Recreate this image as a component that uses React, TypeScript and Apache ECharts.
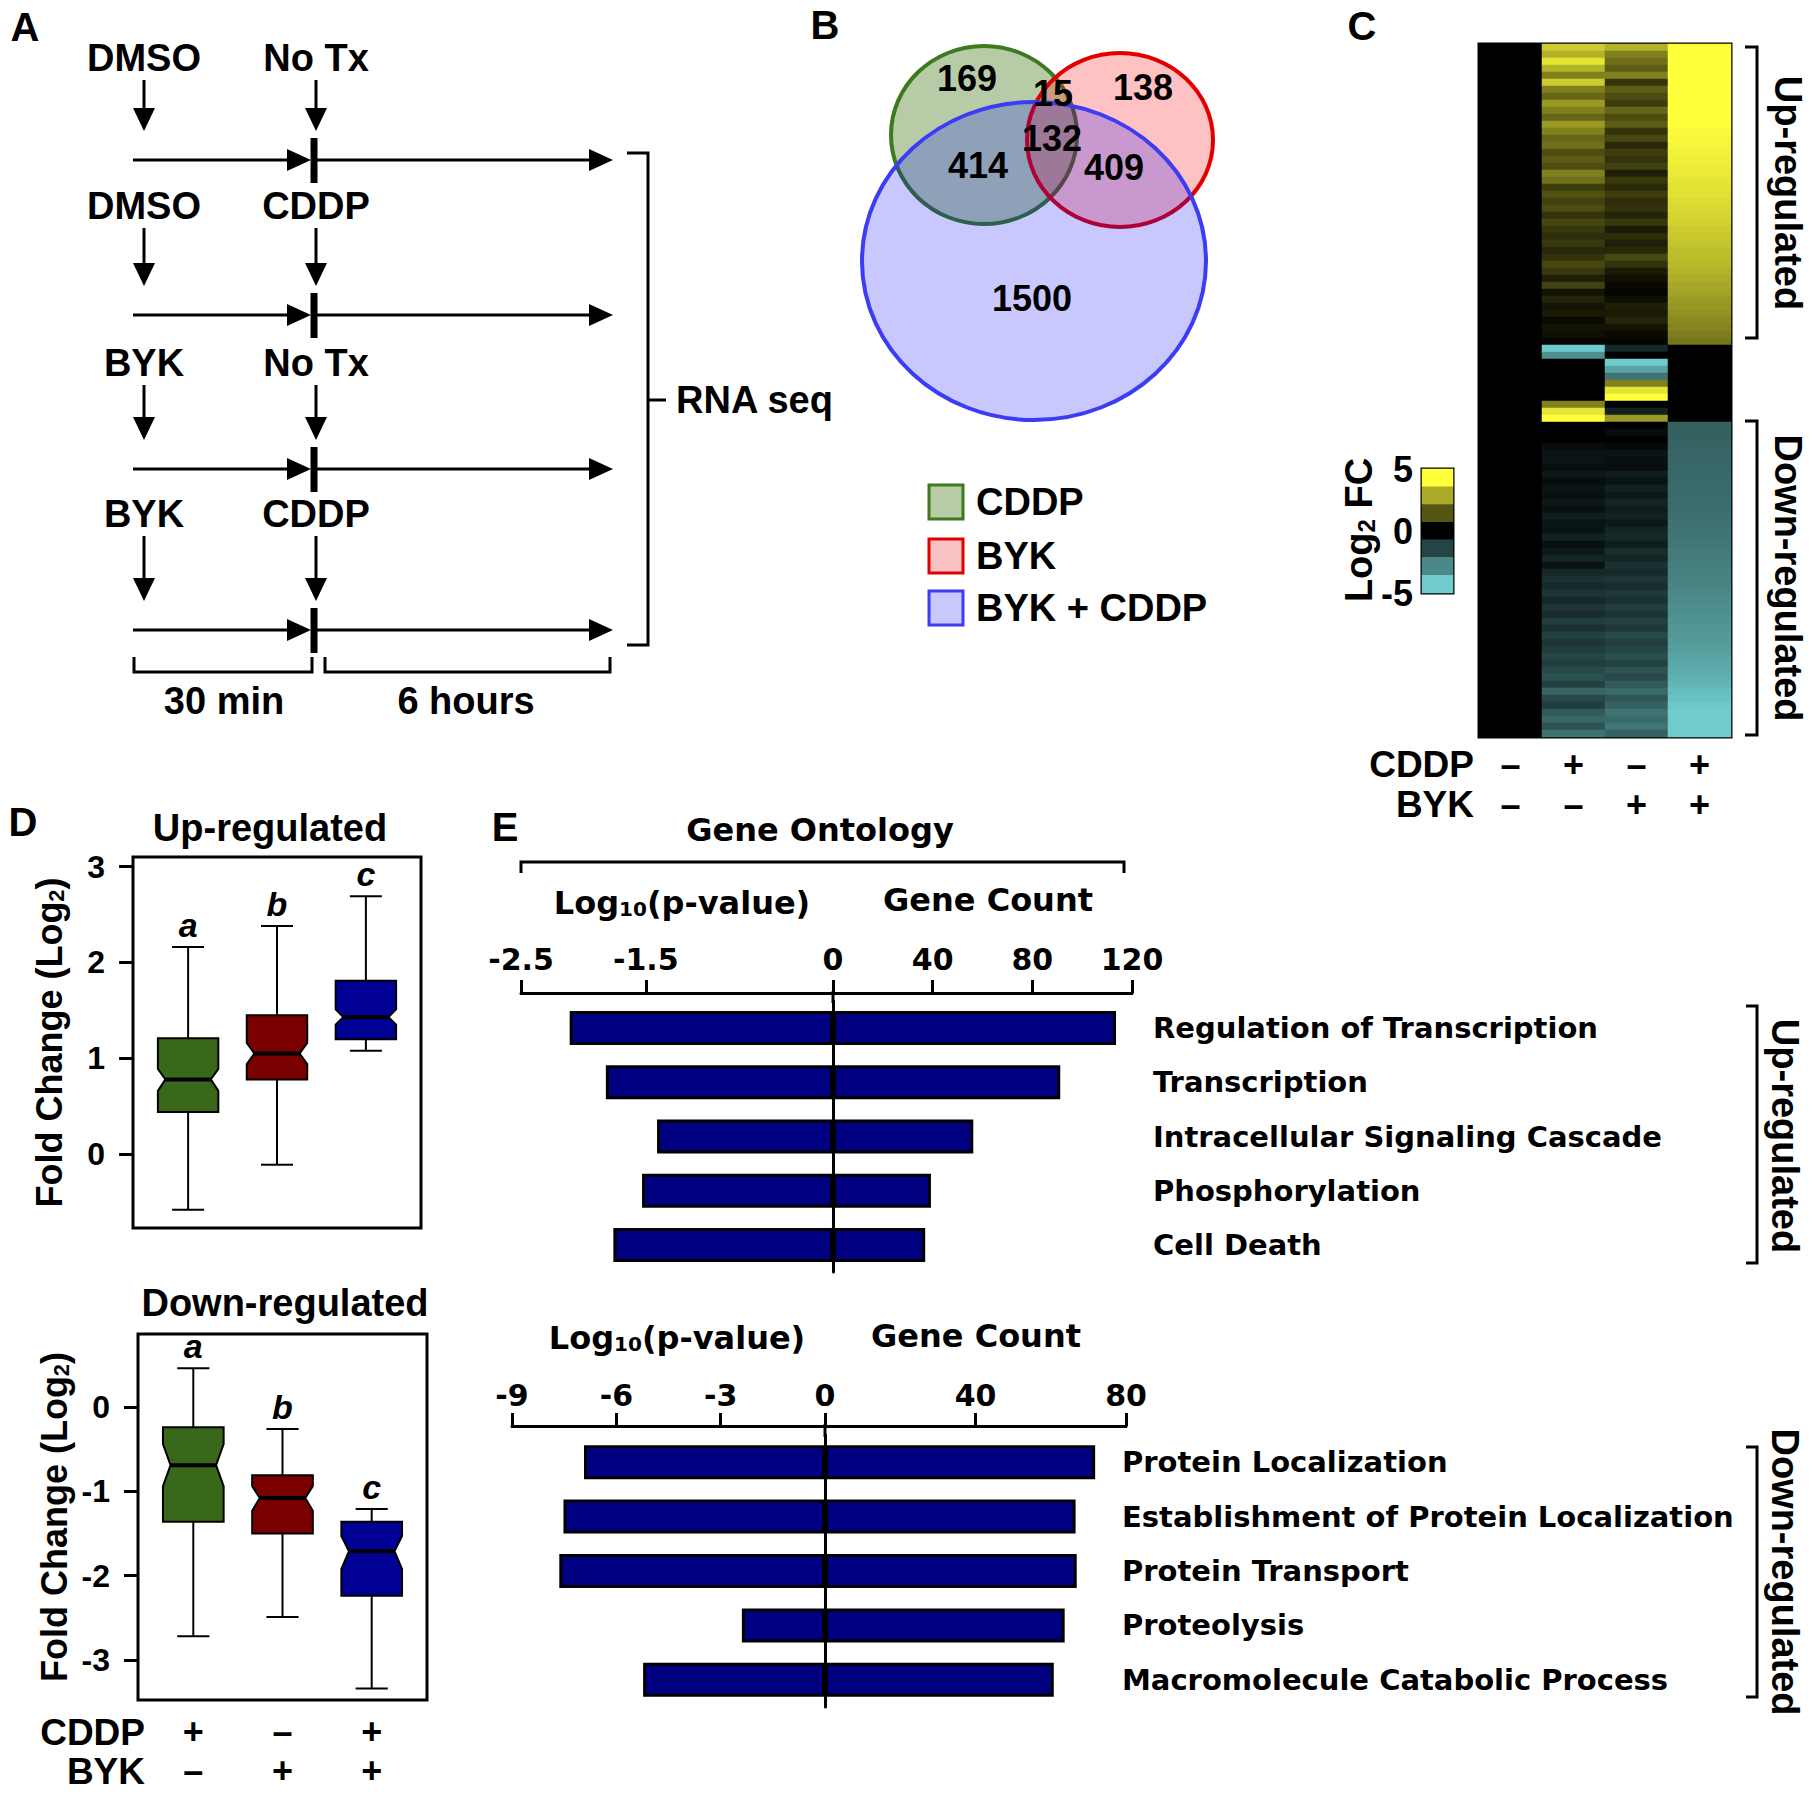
import React, { useEffect, useRef } from "react";
import * as echarts from "echarts";

const FONT = "'Liberation Sans', Arial, Helvetica, sans-serif";
const WIDE = "'DejaVu Sans', 'Liberation Sans', sans-serif";

// ---------------- Panel A : design ----------------
const preTreatments = ["DMSO", "DMSO", "BYK", "BYK"];
const postTreatments = ["No Tx", "CDDP", "No Tx", "CDDP"];
const intervalLabels = ["30 min", "6 hours"];
const outcomeLabel = "RNA seq";

// ---------------- Panel B : Venn ----------------
const vennSetNames = ["CDDP", "BYK", "BYK + CDDP"];
// regions: CDDP only, BYK only, CDDP&BYK only, all three, CDDP&combo, BYK&combo, combo only
const vennCounts = [169, 138, 15, 132, 414, 409, 1500];

// ---------------- Panel C : heatmap (log2 FC) ----------------
const heatColumns = ["DMSO", "CDDP", "BYK", "BYK + CDDP"];
const heatCddpSigns = ["–", "+", "–", "+"];
const heatBykSigns = ["–", "–", "+", "+"];
const cddpUp = [4, 3.5, 4.5, 3.5, 2.5, 4, 2.5, 2, 3, 2.5, 2, 3, 2.5, 2, 2.2, 1.5, 1.8, 1.5, 2.5, 2.2, 1.2, 1.6, 1.3, 1.5, 1.0, 1.4, 1.1, 0.9, 1.1, 0.8, 1.0, 1.4, 1.1, 0.6, 1.3, 0.4, 0.7, 0.4, 0.5, 0.2, 0.4, 0.3, 0.1];
const bykUp = [3.5, 2.5, 2.2, 1.8, 2.5, 1.0, 1.8, 1.5, 1.2, 2.0, 1.5, 1.8, 1.0, 1.4, 0.8, 1.2, 1.0, 1.3, 0.6, 1.1, 0.8, 1.2, 0.9, 1.0, 0.7, 1.1, 0.5, 0.9, 0.6, 0.8, 1.4, 1.0, 0.5, 0.3, 0.2, 0.1, 0.3, 0.6, 0.5, 0.7, 0.4, 0.2, 0.1];
const comboUp = [5, 5, 5, 5, 5, 5, 5, 5, 5, 5, 5, 5, 4.9, 4.85, 4.8, 4.75, 4.7, 4.65, 4.6, 4.5, 4.45, 4.4, 4.3, 4.25, 4.15, 4.1, 4.0, 3.95, 3.85, 3.75, 3.7, 3.6, 3.5, 3.4, 3.3, 3.2, 3.05, 2.95, 2.85, 2.7, 2.6, 2.45, 2.3];
const cddpMid = [-5, -3.5, 0, 0, 0, 0, 0, 0, 2.5, 4.5, 5];
const bykMid = [-1, 0, -5, -4, -2.8, 2.5, 4.5, 5, 0, -0.8, 3];
const comboMid = [0, 0, 0, 0, 0, 0, 0, 0, 0, 0, 0];
const cddpDown = [0, 0, 0, -0.3, -0.5, -0.5, -0.3, -0.6, -0.3, -0.5, -0.4, -0.6, -0.4, -0.7, -0.5, -0.5, -0.8, -0.4, -0.6, -0.9, -0.5, -1.0, -1.2, -1.0, -1.3, -1.0, -1.3, -1.1, -1.5, -1.2, -1.6, -1.3, -1.5, -1.7, -1.5, -1.8, -2.0, -1.6, -2.5, -1.8, -1.5, -2.2, -2.5, -2.0, -2.8];
const bykDown = [0, -0.3, 0, -0.2, -0.5, -0.4, -0.3, -0.7, -0.5, -0.8, -0.6, -0.9, -0.7, -0.8, -0.6, -0.9, -1.0, -0.7, -1.1, -0.9, -1.2, -1.0, -1.3, -1.1, -1.4, -1.2, -1.5, -1.3, -1.6, -1.4, -1.8, -1.5, -1.7, -1.9, -1.6, -2.0, -1.8, -2.2, -2.6, -2.1, -2.4, -2.8, -2.6, -2.9, -2.4];
const comboDown = [-2.35, -2.38, -2.4, -2.43, -2.46, -2.49, -2.52, -2.55, -2.58, -2.61, -2.64, -2.67, -2.7, -2.75, -2.8, -2.85, -2.9, -2.95, -3.0, -3.05, -3.1, -3.15, -3.2, -3.27, -3.34, -3.4, -3.47, -3.54, -3.6, -3.67, -3.74, -3.8, -3.9, -4.0, -4.1, -4.2, -4.3, -4.45, -4.6, -4.75, -4.9, -5, -5, -5, -5];
const legendSteps = [5, 3.33, 1.67, 0, -1.67, -3.33, -5];
const legendTicks = [5, 0, -5];

// ---------------- Panel D : box plots ----------------
const boxCddpSigns = ["+", "–", "+"];
const boxBykSigns = ["–", "+", "+"];
const boxColors = ["#3a681a", "#7a0000", "#000094"];
const upLetters = ["a", "b", "c"];
const downLetters = ["a", "b", "c"];
// [whisker low, Q1, notch low, median, notch high, Q3, whisker high]
const upBoxStats = [
  [-0.58, 0.44, 0.66, 0.78, 0.89, 1.21, 2.16],
  [-0.11, 0.78, 0.94, 1.05, 1.16, 1.45, 2.38],
  [1.08, 1.2, 1.35, 1.43, 1.51, 1.81, 2.69],
];
const downBoxStats = [
  [-2.72, -1.36, -0.94, -0.69, -0.44, -0.24, 0.46],
  [-2.49, -1.5, -1.23, -1.08, -0.94, -0.81, -0.26],
  [-3.34, -2.24, -1.92, -1.71, -1.53, -1.36, -1.21],
];
const upTicks = [0, 1, 2, 3];
const downTicks = [-3, -2, -1, 0];

// ---------------- Panel E : Gene Ontology ----------------
const goUpTerms = ["Regulation of Transcription", "Transcription", "Intracellular Signaling Cascade", "Phosphorylation", "Cell Death"];
const goUpLogP = [-2.11, -1.82, -1.41, -1.53, -1.76];
const goUpCount = [113.6, 91.2, 56.3, 39.3, 37];
const goDownTerms = ["Protein Localization", "Establishment of Protein Localization", "Protein Transport", "Proteolysis", "Macromolecule Catabolic Process"];
const goDownLogP = [-6.93, -7.52, -7.64, -2.39, -5.23];
const goDownCount = [71.8, 66.6, 66.9, 63.7, 60.8];
const goUpPTicks = [-2.5, -1.5];
const goUpCountTicks = [0, 40, 80, 120];
const goDownPTicks = [-9, -6, -3];
const goDownCountTicks = [0, 40, 80];

// ---------- helpers for graphic ----------
const T = (x: number, y: number, text: string, size: number, o: any = {}) => ({
  type: "text",
  x,
  y,
  rotation: o.rotation || 0,
  z: 50,
  silent: true,
  style: {
    text,
    fontSize: size,
    fontWeight: "bold",
    fontStyle: o.italic ? "italic" : "normal",
    fontFamily: o.family || FONT,
    fill: "#000",
    align: o.align || "center",
    verticalAlign: "middle",
    rich: o.rich,
  },
});
const L = (x1: number, y1: number, x2: number, y2: number, w = 3) => ({
  type: "line",
  z: 50,
  silent: true,
  shape: { x1, y1, x2, y2 },
  style: { stroke: "#000", lineWidth: w },
});
const P = (points: number[][], fill = "#000") => ({
  type: "polygon",
  z: 50,
  silent: true,
  shape: { points },
  style: { fill },
});
const PL = (points: number[][], w = 3) => ({
  type: "polyline",
  z: 50,
  silent: true,
  shape: { points },
  style: { stroke: "#000", lineWidth: w, fill: null },
});

const subRich = (size: number, family: string, subSize: number) => ({
  m: { fontSize: size, fontWeight: "bold", fontFamily: family, lineHeight: size + 6, verticalAlign: "bottom", color: "#000", fill: "#000" },
  s: { fontSize: subSize, fontWeight: "bold", fontFamily: family, lineHeight: 12, verticalAlign: "bottom", color: "#000", fill: "#000" },
});

function buildGraphics() {
  const els: any[] = [];
  // panel letters
  els.push(T(25, 27, "A", 40), T(825, 25, "B", 40), T(1362, 26, "C", 40), T(23, 822, "D", 40), T(505, 827, "E", 40));

  // ---- Panel A ----
  const rowLineY = [160, 315, 469, 630];
  const rowLabelY = [58, 206, 363, 514];
  const xL = 144;
  const xM = 316;
  const arrowDown = (x: number, y0: number, tip: number) => {
    els.push(L(x, y0, x, tip - 20, 3));
    els.push(P([[x - 11, tip - 23], [x + 11, tip - 23], [x, tip]]));
  };
  preTreatments.forEach((pre, i) => {
    els.push(T(xL, rowLabelY[i], pre, 38));
    els.push(T(xM, rowLabelY[i], postTreatments[i], 38));
    arrowDown(xL, rowLabelY[i] + 22, rowLineY[i] - 29);
    arrowDown(xM, rowLabelY[i] + 22, rowLineY[i] - 29);
    const y = rowLineY[i];
    els.push(L(133, y, 292, y, 3));
    els.push(P([[287, y - 11], [287, y + 11], [311, y]]));
    els.push(L(314, y - 22, 314, y + 23, 7));
    els.push(L(316, y, 592, y, 3));
    els.push(P([[589, y - 11], [589, y + 11], [613, y]]));
  });
  els.push(PL([[134, 657], [134, 672], [312, 672], [312, 657]]));
  els.push(PL([[325, 657], [325, 672], [610, 672], [610, 657]]));
  els.push(T(224, 701, intervalLabels[0], 38), T(466, 701, intervalLabels[1], 38));
  els.push(PL([[627, 153], [648, 153], [648, 645], [627, 645]]));
  els.push(L(648, 400, 666, 400, 3));
  els.push(T(676, 400, outcomeLabel, 38, { align: "left" }));

  // ---- Panel B ----
  const circles = [
    { cx: 984, cy: 135, rx: 93, ry: 89, fill: "rgba(75,127,32,0.4)", stroke: "#3d7a1e" },
    { cx: 1120, cy: 140, rx: 93, ry: 87, fill: "rgba(255,0,0,0.24)", stroke: "#e00000" },
    { cx: 1034, cy: 261, rx: 172, ry: 159, fill: "rgba(0,0,255,0.216)", stroke: "#3c3cf5" },
  ];
  circles.forEach((c) =>
    els.push({
      type: "ellipse",
      z: 40,
      silent: true,
      shape: { cx: c.cx, cy: c.cy, rx: c.rx, ry: c.ry },
      style: { fill: c.fill, stroke: c.stroke, lineWidth: 4 },
    })
  );
  const countPos = [[967, 78], [1143, 87], [1053, 93], [1052, 138], [978, 165], [1114, 167], [1032, 298]];
  vennCounts.forEach((n, i) => els.push(T(countPos[i][0], countPos[i][1], String(n), 36)));
  const legendFill = ["#b7cca6", "#f8c2c2", "#c8c8fa"];
  const legendY = [502, 556, 608];
  vennSetNames.forEach((name, i) => {
    els.push({
      type: "rect",
      z: 40,
      silent: true,
      shape: { x: 929, y: legendY[i] - 17, width: 34, height: 34 },
      style: { fill: legendFill[i], stroke: circles[i].stroke, lineWidth: 3 },
    });
    els.push(T(976, legendY[i], name, 38, { align: "left" }));
  });

  // ---- Panel C ----
  els.push(PL([[1745, 47], [1757, 47], [1757, 338], [1745, 338]]));
  els.push(T(1788, 193, "Up-regulated", 38, { rotation: -Math.PI / 2 }));
  els.push(PL([[1745, 421], [1757, 421], [1757, 735], [1745, 735]]));
  els.push(T(1788, 578, "Down-regulated", 38, { rotation: -Math.PI / 2 }));
  els.push(T(1356, 530, "{m|Log}{s|2}{m| FC}", 38, { rotation: Math.PI / 2, rich: subRich(38, FONT, 24) }));
  els.push(T(1474, 764, "CDDP", 37, { align: "right" }));
  els.push(T(1474, 804, "BYK", 37, { align: "right" }));

  // ---- Panel D ----
  els.push(T(270, 828, "Up-regulated", 38));
  els.push(T(285, 1303, "Down-regulated", 38));
  els.push(T(145, 1732, "CDDP", 37, { align: "right" }));
  els.push(T(145, 1771, "BYK", 37, { align: "right" }));

  // ---- Panel E ----
  els.push(T(820, 830, "Gene Ontology", 32, { family: WIDE }));
  els.push(PL([[521, 873], [521, 862], [1124, 862], [1124, 873]]));
  els.push(T(682, 900, "{m|Log}{s|10}{m|(p-value)}", 32, { family: WIDE, rich: subRich(32, WIDE, 20) }));
  els.push(T(988, 900, "Gene Count", 32, { family: WIDE }));
  els.push(T(677, 1335, "{m|Log}{s|10}{m|(p-value)}", 32, { family: WIDE, rich: subRich(32, WIDE, 20) }));
  els.push(T(976, 1336, "Gene Count", 32, { family: WIDE }));
  els.push(L(833, 991, 833, 1003, 3));
  els.push(L(825, 1424, 825, 1437, 3));
  els.push(PL([[1746, 1006], [1757, 1006], [1757, 1263], [1746, 1263]]));
  els.push(T(1785, 1136, "Up-regulated", 38, { rotation: -Math.PI / 2 }));
  els.push(PL([[1746, 1447], [1757, 1447], [1757, 1697], [1746, 1697]]));
  els.push(T(1785, 1572, "Down-regulated", 38, { rotation: -Math.PI / 2 }));
  return els;
}

const boxRender = (letters: string[]) => (params: any, api: any) => {
  const x = api.value(0);
  const wl = api.value(1);
  const q1 = api.value(2);
  const nl = api.value(3);
  const md = api.value(4);
  const nh = api.value(5);
  const q3 = api.value(6);
  const wh = api.value(7);
  const c = (xv: number, yv: number) => api.coord([xv, yv]);
  const HW = 0.34;
  const IN = 0.085;
  const CAP = 0.18;
  const color = boxColors[params.dataIndex];
  const pts = [c(x - HW, q3), c(x + HW, q3), c(x + HW, nh), c(x + HW - IN, md), c(x + HW, nl), c(x + HW, q1), c(x - HW, q1), c(x - HW, nl), c(x - HW + IN, md), c(x - HW, nh)];
  const top = c(x, wh);
  const bot = c(x, wl);
  const q3p = c(x, q3);
  const q1p = c(x, q1);
  const cL = c(x - CAP, wh);
  const cR = c(x + CAP, wh);
  const cL2 = c(x - CAP, wl);
  const cR2 = c(x + CAP, wl);
  const mL = c(x - HW + IN, md);
  const mR = c(x + HW - IN, md);
  const st = { stroke: "#000", lineWidth: 2 };
  return {
    type: "group",
    children: [
      { type: "line", shape: { x1: top[0], y1: top[1], x2: q3p[0], y2: q3p[1] }, style: st },
      { type: "line", shape: { x1: bot[0], y1: bot[1], x2: q1p[0], y2: q1p[1] }, style: st },
      { type: "line", shape: { x1: cL[0], y1: cL[1], x2: cR[0], y2: cR[1] }, style: st },
      { type: "line", shape: { x1: cL2[0], y1: cL2[1], x2: cR2[0], y2: cR2[1] }, style: st },
      { type: "polygon", shape: { points: pts }, style: { fill: color, stroke: "#000", lineWidth: 2 } },
      { type: "line", shape: { x1: mL[0], y1: mL[1], x2: mR[0], y2: mR[1] }, style: { stroke: "#000", lineWidth: 4 } },
      {
        type: "text",
        x: top[0],
        y: top[1] - 5,
        style: { text: letters[params.dataIndex], fill: "#000", font: `italic bold 34px ${FONT}`, align: "center", verticalAlign: "bottom" },
      },
    ],
  };
};

function buildOption() {
  const cddpCol = [...cddpUp, ...cddpMid, ...cddpDown];
  const bykCol = [...bykUp, ...bykMid, ...bykDown];
  const comboCol = [...comboUp, ...comboMid, ...comboDown];
  const dmsoCol = cddpCol.map(() => 0);
  const columns = [dmsoCol, cddpCol, bykCol, comboCol];
  const rowIds = cddpCol.map((_, i) => String(i));
  const heatData: any[] = [];
  columns.forEach((col, ci) => col.forEach((v, ri) => heatData.push([ci, ri, v])));
  const legendData = legendSteps.map((v, i) => [0, i, v]);

  const black = "#000";
  const boldLabel = (size: number, family = FONT) => ({ fontSize: size, fontWeight: "bold", fontFamily: family, color: black });
  const gridBase = { outerBoundsMode: "none", containLabel: false };

  const yName = "{m|Fold Change (Log}{s|2}{m|)}";

  const eX = (grid: number, min: number, max: number, ticks: number[], offset: number, margin: number) => ({
    type: "value",
    gridIndex: grid,
    min,
    max,
    position: "top",
    offset,
    axisLine: { show: true, onZero: false, lineStyle: { color: black, width: 3 } },
    axisTick: { show: true, length: 13, customValues: ticks, lineStyle: { color: black, width: 3 } },
    axisLabel: { ...boldLabel(30, WIDE), customValues: ticks, margin },
    splitLine: { show: false },
  });
  const eYHidden = (grid: number, data: string[]) => ({ type: "category", gridIndex: grid, data, inverse: true, show: false });
  const eYZero = (grid: number, data: string[]) => ({
    type: "category",
    gridIndex: grid,
    data,
    inverse: true,
    axisLine: { show: true, onZero: false, lineStyle: { color: black, width: 3 } },
    axisTick: { show: false },
    axisLabel: { show: false },
    splitLine: { show: false },
  });
  const eYLabels = (grid: number, data: string[], margin: number) => ({
    type: "category",
    gridIndex: grid,
    data,
    inverse: true,
    position: "right",
    axisLine: { show: false },
    axisTick: { show: false },
    axisLabel: { ...boldLabel(29, WIDE), margin, align: "left", interval: 0 },
    splitLine: { show: false },
  });
  const eBar = (xi: number, yi: number, data: number[]) => ({
    type: "bar",
    xAxisIndex: xi,
    yAxisIndex: yi,
    data,
    barWidth: 34,
    silent: true,
    itemStyle: { color: "#000080", borderColor: black, borderWidth: 3 },
  });

  return {
    animation: false,
    backgroundColor: "#fff",
    textStyle: { fontFamily: FONT },
    grid: [
      { ...gridBase, left: 133, top: 857, width: 288, height: 371, show: true, borderColor: black, borderWidth: 3, backgroundColor: "transparent" },
      { ...gridBase, left: 138, top: 1334, width: 289, height: 366, show: true, borderColor: black, borderWidth: 3, backgroundColor: "transparent" },
      { ...gridBase, left: 1479, top: 44, width: 252, height: 693, show: true, borderColor: black, borderWidth: 3, backgroundColor: black },
      { ...gridBase, left: 1422, top: 469, width: 31, height: 124, show: true, borderColor: black, borderWidth: 3, backgroundColor: "transparent" },
      { ...gridBase, left: 521, top: 1001, width: 312, height: 271 },
      { ...gridBase, left: 833, top: 1001, width: 299, height: 271 },
      { ...gridBase, left: 512, top: 1435, width: 313, height: 272 },
      { ...gridBase, left: 825, top: 1435, width: 301, height: 272 },
    ],
    xAxis: [
      { type: "value", gridIndex: 0, min: 0.38, max: 3.62, show: false },
      {
        type: "value",
        gridIndex: 1,
        min: 0.38,
        max: 3.62,
        axisLine: { show: false },
        axisTick: { show: false },
        splitLine: { show: false },
        axisLabel: {
          ...boldLabel(36),
          customValues: [1, 2, 3],
          lineHeight: 39,
          margin: 12,
          formatter: (v: number) => `${boxCddpSigns[Math.round(v) - 1]}\n${boxBykSigns[Math.round(v) - 1]}`,
        },
      },
      {
        type: "category",
        gridIndex: 2,
        data: heatColumns,
        axisLine: { show: false },
        axisTick: { show: false },
        splitLine: { show: false },
        axisLabel: {
          ...boldLabel(36),
          interval: 0,
          lineHeight: 40,
          margin: 7,
          formatter: (_v: string, i: number) => `${heatCddpSigns[i]}\n${heatBykSigns[i]}`,
        },
      },
      { type: "category", gridIndex: 3, data: [""], show: false },
      eX(4, -2.5, 0, goUpPTicks, 8, 19),
      eX(5, 0, 120, goUpCountTicks, 8, 19),
      eX(6, -9, 0, goDownPTicks, 9, 16),
      eX(7, 0, 80, goDownCountTicks, 9, 16),
    ],
    yAxis: [
      {
        type: "value",
        gridIndex: 0,
        min: -0.77,
        max: 3.1,
        axisLine: { show: false },
        axisTick: { show: true, inside: false, length: 14, customValues: upTicks, lineStyle: { color: black, width: 3 } },
        axisLabel: { ...boldLabel(32), customValues: upTicks, margin: 28 },
        splitLine: { show: false },
        name: yName,
        nameLocation: "middle",
        nameRotate: 90,
        nameGap: 66,
        nameTextStyle: { color: black, fontWeight: "bold", fontSize: 36, rich: subRich(36, FONT, 22) },
      },
      {
        type: "value",
        gridIndex: 1,
        min: -3.475,
        max: 0.866,
        axisLine: { show: false },
        axisTick: { show: true, inside: false, length: 14, customValues: downTicks, lineStyle: { color: black, width: 3 } },
        axisLabel: { ...boldLabel(32), customValues: downTicks, margin: 28 },
        splitLine: { show: false },
        name: yName,
        nameLocation: "middle",
        nameRotate: 90,
        nameGap: 66,
        nameTextStyle: { color: black, fontWeight: "bold", fontSize: 36, rich: subRich(36, FONT, 22) },
      },
      { type: "category", gridIndex: 2, data: rowIds, inverse: true, show: false },
      { type: "category", gridIndex: 3, data: legendSteps.map(String), inverse: true, show: false },
      {
        type: "value",
        gridIndex: 3,
        min: -5,
        max: 5,
        position: "left",
        axisLine: { show: false },
        axisTick: { show: false },
        splitLine: { show: false },
        axisLabel: { ...boldLabel(36), customValues: legendTicks, margin: 9 },
      },
      eYHidden(4, goUpTerms),
      eYZero(5, goUpTerms),
      eYLabels(5, goUpTerms, 21),
      eYHidden(6, goDownTerms),
      eYZero(7, goDownTerms),
      eYLabels(7, goDownTerms, -4),
    ],
    visualMap: {
      type: "continuous",
      min: -5,
      max: 5,
      show: false,
      seriesIndex: [2, 3],
      dimension: 2,
      inRange: { color: ["#70cccc", "#000000", "#ffff3c"] },
    },
    series: [
      {
        type: "custom",
        xAxisIndex: 0,
        yAxisIndex: 0,
        renderItem: boxRender(upLetters),
        data: upBoxStats.map((s, i) => [i + 1, ...s]),
        encode: { x: 0, y: [1, 2, 3, 4, 5, 6, 7] },
        clip: false,
        silent: true,
      },
      {
        type: "custom",
        xAxisIndex: 1,
        yAxisIndex: 1,
        renderItem: boxRender(downLetters),
        data: downBoxStats.map((s, i) => [i + 1, ...s]),
        encode: { x: 0, y: [1, 2, 3, 4, 5, 6, 7] },
        clip: false,
        silent: true,
      },
      {
        type: "heatmap",
        xAxisIndex: 2,
        yAxisIndex: 2,
        data: heatData,
        silent: true,
        itemStyle: { borderWidth: 0 },
        emphasis: { disabled: true },
      },
      {
        type: "heatmap",
        xAxisIndex: 3,
        yAxisIndex: 3,
        data: legendData,
        silent: true,
        itemStyle: { borderWidth: 0 },
        emphasis: { disabled: true },
      },
      eBar(4, 5, goUpLogP),
      eBar(5, 6, goUpCount),
      eBar(6, 8, goDownLogP),
      eBar(7, 9, goDownCount),
    ],
    graphic: { elements: buildGraphics() },
  };
}

export default function App() {
  const ref = useRef<HTMLDivElement>(null);
  useEffect(() => {
    document.body.style.margin = "0";
    if (!ref.current) return;
    const chart = echarts.init(ref.current, undefined, { renderer: "svg" });
    chart.setOption(buildOption() as any);
    return () => chart.dispose();
  }, []);
  return <div ref={ref} style={{ width: 1812, height: 1795, background: "#fff" }} />;
}
